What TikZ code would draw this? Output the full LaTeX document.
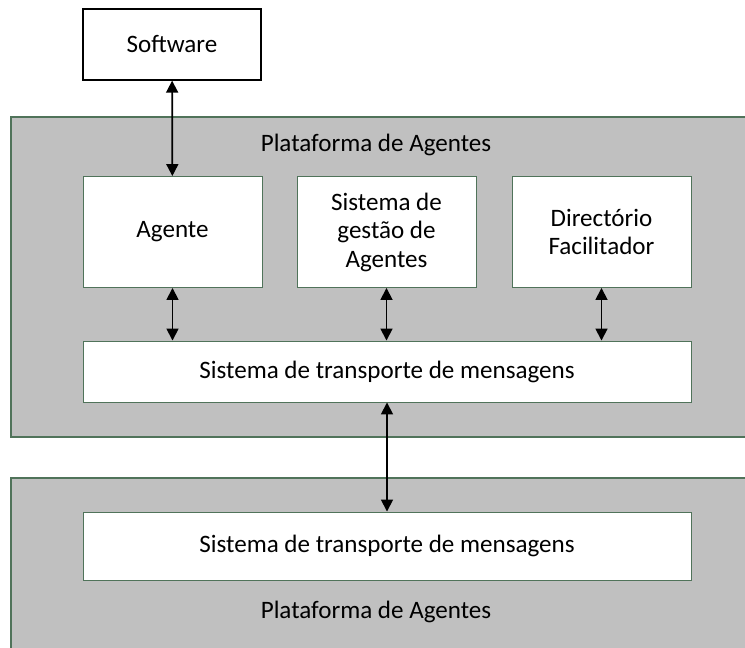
\documentclass[tikz,border=0pt]{standalone}
\usepackage{fontspec}
\setmainfont{Carlito}
\usepackage{tikz}
\usetikzlibrary{arrows.meta}
\definecolor{platgray}{RGB}{192,192,192}
\definecolor{edgegreen}{RGB}{80,115,90}

\begin{document}
\begin{tikzpicture}[x=0.75pt,y=-0.75pt,
  font=\fontsize{18.8}{21.4}\selectfont,
  platform/.style={fill=platgray,draw=edgegreen,line width=0.8pt},
  inbox/.style={draw=edgegreen,fill=white,line width=0.7pt,align=center,inner sep=0pt},
  outbox/.style={draw=black,fill=white,line width=1pt,inner sep=0pt},
  link/.style={line width=1.3pt,{Triangle[length=9pt,width=9pt]}-{Triangle[length=9pt,width=9pt]}}]
\useasboundingbox (0,0) rectangle (745,648);
% the two platforms
\draw [platform] (11,117) rectangle (760,437);
\draw [platform] (11,478) rectangle (760,670);
\node (plat1) at (376,145) {Plataforma de Agentes};
\node (plat2) at (376,612) {Plataforma de Agentes};
% boxes
\node [outbox,minimum width=133.5pt,minimum height=53.25pt] (soft) at (172,44.5) {Software};
\node [inbox,minimum width=134.25pt,minimum height=83.25pt] (agente) at (172.5,232) {Agente};
\node [inbox,minimum width=134.25pt,minimum height=83.25pt] (gestao) at (386.5,232) {Sistema de\\gestão de\\Agentes};
\node [inbox,minimum width=134.25pt,minimum height=83.25pt] (dir) at (601.5,232) {Directório\\Facilitador};
\node [inbox,minimum width=456pt,minimum height=45.75pt] (mts1) at (387,371.5) {Sistema de transporte de mensagens};
\node [inbox,minimum width=456pt,minimum height=51pt] (mts2) at (387,546) {Sistema de transporte de mensagens};
% links
\draw [link] (soft) -- (agente);
\draw [link] (agente) -- (agente |- mts1.north);
\draw [link] (gestao) -- (gestao |- mts1.north);
\draw [link] (dir) -- (dir |- mts1.north);
\draw [link] (mts1) -- (mts2);
\end{tikzpicture}
\end{document}
